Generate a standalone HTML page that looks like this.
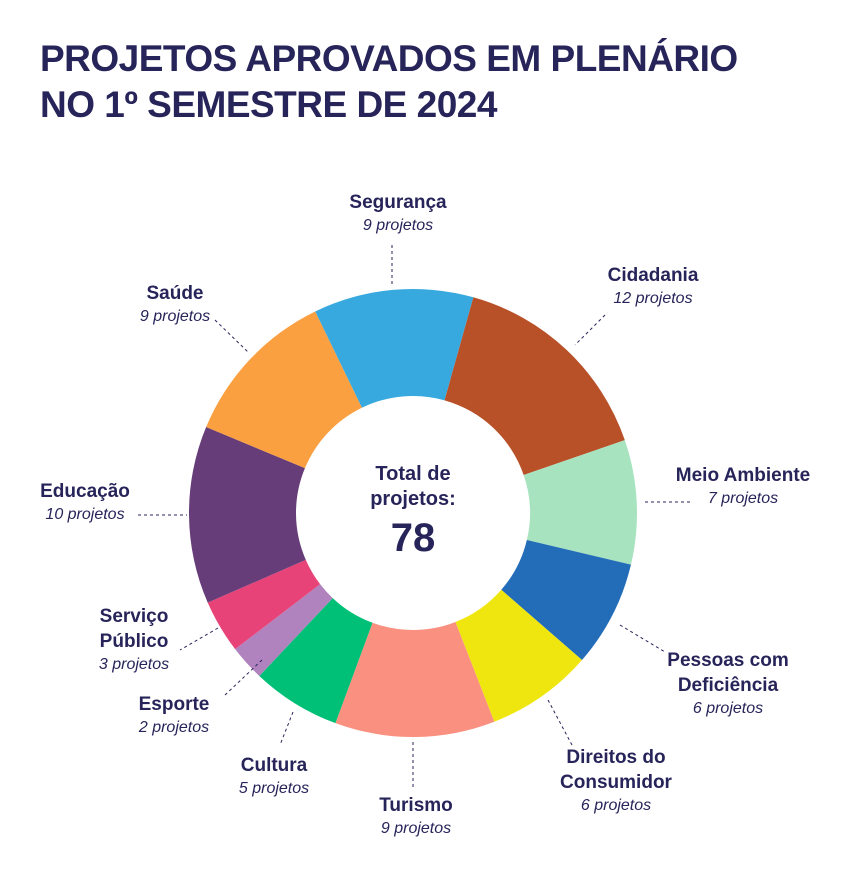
<!DOCTYPE html>
<html><head><meta charset="utf-8"><style>
body{margin:0;width:857px;height:896px;background:#fff;font-family:"Liberation Sans",sans-serif;color:#27245a;position:relative;overflow:hidden}
h1{position:absolute;left:40px;top:36px;margin:0;font-size:37px;line-height:46px;font-weight:bold;color:#27245a;letter-spacing:-0.5px}
.l{position:absolute;text-align:center;transform:translateX(-50%);white-space:nowrap}
.l b{display:block;font-size:19px;line-height:25px}
.l i{display:block;font-size:16px;line-height:21px}
.r{transform:none;text-align:left}.rr{transform:translateX(-100%);text-align:right}
svg{position:absolute;left:0;top:0}
</style></head><body>
<h1>PROJETOS APROVADOS EM PLENÁRIO<br>NO 1º SEMESTRE DE 2024</h1>
<svg id="s" width="857" height="896"></svg>
<div class="l" style="left:398px;top:190px"><b>Segurança</b><i>9 projetos</i></div>
<div class="l" style="left:653px;top:263px"><b>Cidadania</b><i>12 projetos</i></div>
<div class="l" style="left:743px;top:463px"><b>Meio Ambiente</b><i>7 projetos</i></div>
<div class="l" style="left:728px;top:648px"><b>Pessoas com</b><b>Deficiência</b><i>6 projetos</i></div>
<div class="l" style="left:616px;top:745px"><b>Direitos do</b><b>Consumidor</b><i>6 projetos</i></div>
<div class="l" style="left:416px;top:793px"><b>Turismo</b><i>9 projetos</i></div>
<div class="l" style="left:274px;top:753px"><b>Cultura</b><i>5 projetos</i></div>
<div class="l" style="left:174px;top:692px"><b>Esporte</b><i>2 projetos</i></div>
<div class="l" style="left:134px;top:604px"><b>Serviço</b><b>Público</b><i>3 projetos</i></div>
<div class="l" style="left:85px;top:479px"><b>Educação</b><i>10 projetos</i></div>
<div class="l" style="left:175px;top:281px"><b>Saúde</b><i>9 projetos</i></div>
<div class="l" style="left:413px;top:462px"><b style="font-size:20px;line-height:25px">Total de</b><b style="font-size:20px;line-height:25px">projetos:</b><b style="font-size:40px;line-height:52px">78</b></div>
<script>
var d=[[9,"#38a9df"],[12,"#b85028"],[7,"#a8e3c0"],[6,"#236db8"],[6,"#f0e60f"],[9,"#fa9080"],[5,"#00c078"],[2,"#b083be"],[3,"#e84378"],[10,"#663d78"],[9,"#fba040"]];
var cx=413,cy=513,R=224,r=117,a=-25.9,h="";
function p(rad,deg){var t=deg*Math.PI/180;return (cx+rad*Math.sin(t)).toFixed(2)+","+(cy-rad*Math.cos(t)).toFixed(2)}
d.forEach(function(s){var b=a+s[0]/78*360,L=(b-a)>180?1:0;
h+='<path fill="'+s[1]+'" d="M'+p(R,a)+'A'+R+','+R+' 0 '+L+' 1 '+p(R,b)+'L'+p(r,b)+'A'+r+','+r+' 0 '+L+' 0 '+p(r,a)+'Z"/>';a=b;});
var ln=[[392,245,392,285],[605,315,575,345],[690,502,645,502],[620,625,665,652],[548,700,572,745],[413,742,413,790],[293,712,280,745],[262,660,225,695],[218,628,180,650],[138,515,187,515],[215,320,248,352]];
ln.forEach(function(q){h+='<line x1="'+q[0]+'" y1="'+q[1]+'" x2="'+q[2]+'" y2="'+q[3]+'" stroke="#27245a" stroke-width="1" stroke-dasharray="3,3"/>'});
document.getElementById("s").innerHTML=h;
</script>
</body></html>
